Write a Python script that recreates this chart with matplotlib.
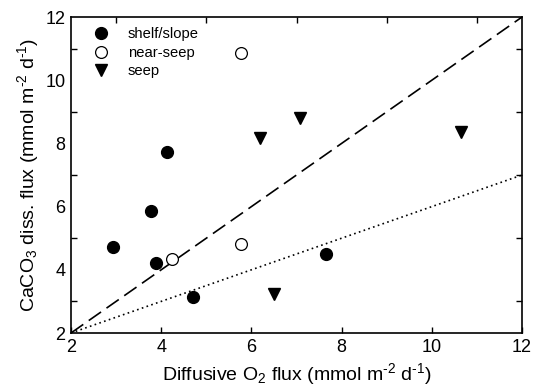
import matplotlib
matplotlib.use('Agg')
import matplotlib.pyplot as plt
import numpy as np

plt.rcParams['font.family'] = ['Liberation Sans', 'DejaVu Sans']
plt.rcParams['mathtext.fontset'] = 'custom'
plt.rcParams['mathtext.rm'] = 'Liberation Sans'
plt.rcParams['mathtext.it'] = 'Liberation Sans:italic'

# shelf/slope stations
shelf_x = [2.93, 3.77, 3.88, 4.71, 4.12, 7.65]
shelf_y = [4.72, 5.87, 4.20, 3.13, 7.73, 4.50]
# near-seep stations
near_x = [5.77, 4.25, 5.76]
near_y = [10.85, 4.33, 4.82]
# seep stations
seep_x = [6.19, 7.08, 10.65, 6.50]
seep_y = [8.17, 8.79, 8.37, 3.23]

# reference lines (slope 1 and slope 0.5 through (2,2))
line_x = [2, 12]
ratio1_y = [2, 12]
ratio05_y = [2, 7]


def main():
    fig = plt.figure(figsize=(5.33, 3.92), dpi=100)
    ax = fig.add_axes([0.1332, 0.1505, 0.8462, 0.8061])

    ax.plot(line_x, ratio1_y, color='black', lw=1.2, dashes=(9, 4))
    ax.plot(line_x, ratio05_y, color='black', lw=1.2, ls=(0, (1, 2)))

    ax.plot(shelf_x, shelf_y, 'o', color='black', ms=8.5, label='shelf/slope')
    ax.plot(near_x, near_y, 'o', mfc='white', mec='black', mew=0.9, ms=8.5,
            label='near-seep')
    ax.plot(seep_x, seep_y, 'v', color='black', ms=8, label='seep')

    ax.set_xlim(2, 12)
    ax.set_ylim(2, 12)

    # bottom axis: even ticks, other sides: odd ticks (all inward)
    ax.set_xticks([2, 4, 6, 8, 10, 12])
    ax.set_yticks([2, 4, 6, 8, 10, 12])
    ax.tick_params(axis='both', which='major', length=0, labelsize=13, pad=4)
    ax.tick_params(axis='x', which='major', length=4, direction='in', width=1)
    ax.set_xticks([3, 5, 7, 9, 11], minor=True)
    ax.set_yticks([3, 5, 7, 9, 11], minor=True)
    ax.tick_params(axis='x', which='minor', bottom=False, top=True,
                   direction='in', length=4, width=1)
    ax.tick_params(axis='y', which='minor', left=True, right=True,
                   direction='in', length=4, width=1)

    for s in ax.spines.values():
        s.set_linewidth(1.2)

    unit = '(mmol m$^{\u20102}$ d$^{\u20101}$)'
    ax.set_xlabel('Diffusive O$_2$ flux ' + unit, fontsize=14, labelpad=4)
    ax.set_ylabel('CaCO$_3$ diss. flux ' + unit, fontsize=14, labelpad=3)

    ax.legend(loc='upper left', frameon=False, fontsize=10.6, handletextpad=0.8,
              labelspacing=0.3, borderaxespad=0.3, bbox_to_anchor=(0.012, 1.0))

    fig.savefig('out.png', dpi=100)


if __name__ == "__main__":
    main()
